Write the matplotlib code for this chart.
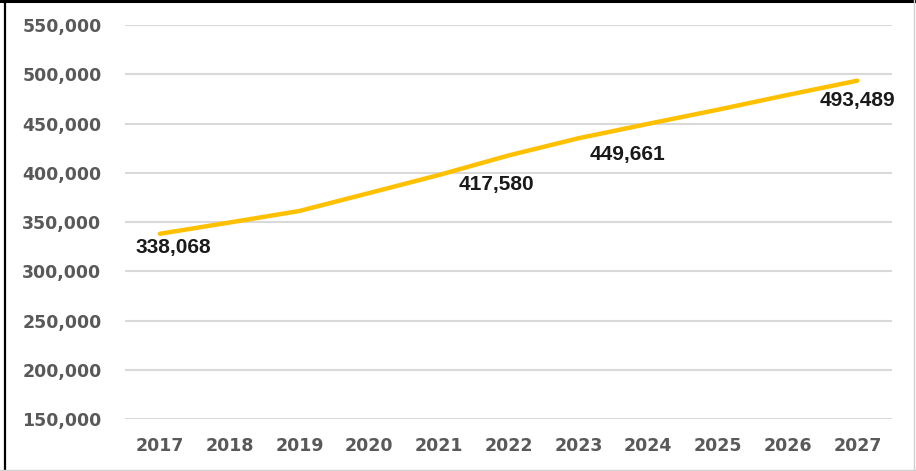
import matplotlib
matplotlib.use("Agg")
import matplotlib.pyplot as plt
from matplotlib.lines import Line2D
from matplotlib.ticker import FuncFormatter

years = [2017, 2018, 2019, 2020, 2021, 2022, 2023, 2024, 2025, 2026, 2027]
values = [338068, 349500, 361200, 379400, 397700, 417580, 435000, 449661, 464000, 479000, 493489]
labeled_years = [2017, 2022, 2024, 2027]

# label offsets (points) relative to the data point
label_offsets = {2017: (10, -10), 2022: (-9, -21), 2024: (-15, -22), 2027: (0, -14)}

fig = plt.figure(figsize=(9.16, 4.71), dpi=100)
ax = fig.add_axes([0.1365, 0.1104, 0.974 - 0.1365, 0.9469 - 0.1104])

x = list(range(len(years)))
ax.plot(x, values, color="#FFC000", lw=3.2, solid_capstyle="round", zorder=3)

for yr in labeled_years:
    i = years.index(yr)
    dx, dy = label_offsets[yr]
    ax.annotate(f"{values[i]:,}", (x[i], values[i]), xytext=(dx, dy),
                textcoords="offset points", ha="center", va="center",
                fontsize=15, fontweight="bold", family="Liberation Sans",
                color="#1a1a1a", zorder=4)

ax.set_xlim(-0.5, len(years) - 0.5)
ax.set_ylim(150000, 550000)
ax.set_yticks(range(150000, 550001, 50000))
ax.yaxis.set_major_formatter(FuncFormatter(lambda v, p: f"{int(v):,}"))
ax.set_xticks(x)
ax.set_xticklabels([str(y) for y in years])

ax.grid(axis="y", color="#d9d9d9", lw=1.5, zorder=0)
ax.set_axisbelow(True)
for s in ax.spines.values():
    s.set_visible(False)
ax.tick_params(length=0, labelsize=12.5, labelcolor="#595959")
ax.tick_params(axis="y", pad=17)
ax.tick_params(axis="x", pad=13)
for lab in ax.get_xticklabels() + ax.get_yticklabels():
    lab.set_fontweight("bold")
    lab.set_family("DejaVu Sans")

# outer frame
W, H = 916, 471
fig.add_artist(Line2D([0, 1], [1 - 1 / H, 1 - 1 / H], color="black", lw=2.2))
fig.add_artist(Line2D([4.5 / W, 4.5 / W], [0, 1], color="black", lw=1.6))
fig.add_artist(Line2D([913.5 / W, 913.5 / W], [0, 1], color="#d0d0d0", lw=1))
fig.add_artist(Line2D([0, 1], [1.5 / H, 1.5 / H], color="#d0d0d0", lw=1))

fig.savefig("out.png", dpi=100)
